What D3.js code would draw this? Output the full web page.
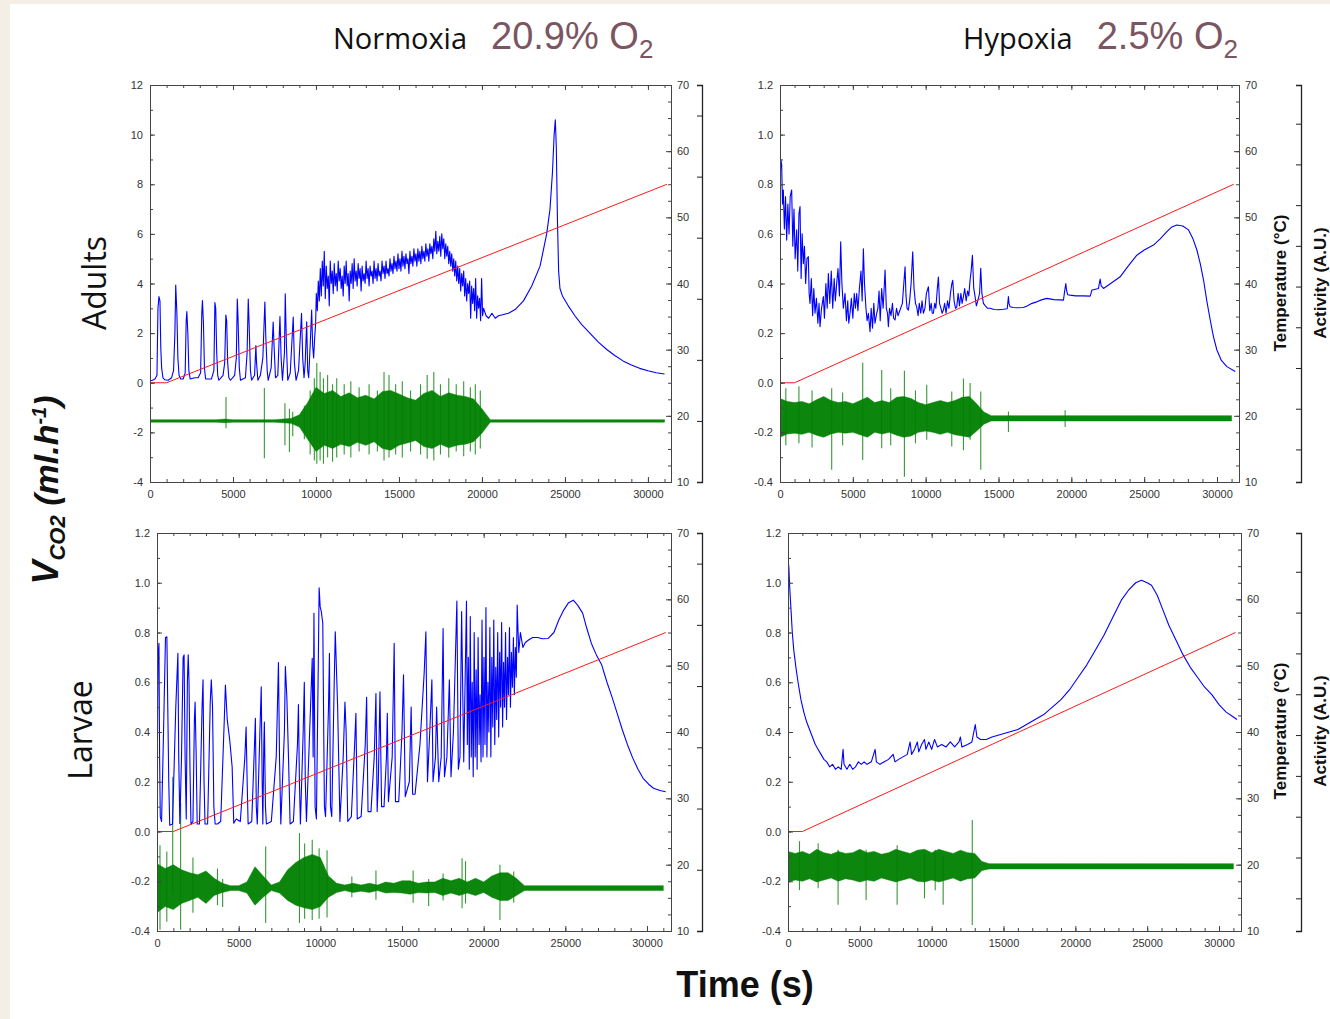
<!DOCTYPE html>
<html>
<head>
<meta charset="utf-8">
<script src="https://cdn.jsdelivr.net/npm/d3@7"></script>
<style>
  body { margin: 0; background: #fff; }
  svg text { font-family: "Liberation Sans Narrow", "Liberation Sans", Arial, sans-serif; }
</style>
</head>
<body>
<svg id="chart" width="1330" height="1019"></svg>
<script>
// ---- data ----
const xTickLabels = [0, 5000, 10000, 15000, 20000, 25000, 30000];
const yTicksAdults = [-4, -2, 0, 2, 4, 6, 8, 10, 12];
const yTicksRate = [-0.4, -0.2, 0.0, 0.2, 0.4, 0.6, 0.8, 1.0, 1.2];
const tempTicks = [10, 20, 30, 40, 50, 60, 70];

// temperature ramp (deg C)
const tempTime = [0, 1000, 31150];
const tempValue = [25, 25, 55];

// VCO2 traces, [time s, ml/h]
const vco2AdultsNormoxia = [[0,0.08],[150,0.1],[300,0.15],[420,0.3],[480,3.0],[540,3.47],[600,3.3],[650,1.4],[700,0.6],[780,0.2],[900,0.12],[1100,0.1],[1300,0.2],[1420,0.5],[1500,2.0],[1550,3.94],[1620,2.8],[1680,1.0],[1750,0.3],[1850,0.15],[2000,0.15],[2120,0.4],[2180,2.5],[2220,2.87],[2280,2.0],[2340,0.5],[2420,0.15],[2700,0.2],[2900,0.2],[3050,0.4],[3120,2.8],[3160,3.31],[3220,2.4],[3280,0.6],[3350,0.15],[3700,0.15],[3850,0.5],[3910,3.23],[3960,3.0],[4020,1.2],[4080,0.3],[4150,0.1],[4400,0.3],[4500,0.8],[4570,2.73],[4620,2.5],[4680,0.8],[4750,0.2],[4850,0.1],[5100,0.3],[5200,1.0],[5260,3.37],[5300,2.7],[5380,0.6],[5450,0.1],[5750,0.2],[5850,1.2],[5920,3.37],[5970,2.4],[6050,0.5],[6120,0.1],[6300,0.3],[6380,1.5],[6420,0.8],[6500,0.1],[6650,0.3],[6800,1.0],[6920,3.25],[6980,1.8],[7060,0.5],[7120,0.1],[7300,0.6],[7420,2.45],[7480,1.4],[7560,0.2],[7700,0.3],[7830,2.67],[7900,1.0],[7980,0.1],[8100,1.2],[8150,3.58],[8220,1.5],[8300,0.1],[8450,0.4],[8630,2.65],[8700,0.8],[8800,0.1],[8950,0.5],[9130,2.8],[9200,1.0],[9280,0.2],[9350,0.8],[9440,2.46],[9500,0.5],[9560,0.2],[9650,1.5],[9740,2.93],[9800,1.5],[9860,1.0],[9920,1.8],[9980,2.4],
  [10020,3.6],[10080,2.9],[10140,4.1],[10200,3.3],[10260,4.6],[10320,3.5],[10380,4.9],[10440,3.9],[10500,5.3],[10560,3.4],[10620,4.7],[10680,3.8],[10740,4.3],[10800,3.1],[10860,4.9],[10920,4.0],[10980,4.5],[11040,3.6],[11100,4.8],[11160,3.9],[11220,4.4],[11280,3.7],[11340,4.9],[11400,4.1],[11460,4.6],[11520,3.8],[11580,4.3],[11640,3.5],[11700,4.7],[11760,4.0],[11820,4.9],[11880,3.9],[11940,4.4],[12000,3.3],[12060,4.5],[12120,4.0],[12180,4.8],[12240,3.8],[12300,5.0],[12360,4.1],[12420,4.5],[12480,3.9],[12540,4.8],[12600,4.2],[12660,4.6],[12720,3.7],[12780,4.7],[12840,4.1],[12900,4.4],[12960,4.0],[13020,4.9],[13080,4.2],[13140,4.6],[13200,3.9],[13260,4.7],[13320,4.3],[13380,4.5],[13440,4.0],[13500,4.9],[13560,4.2],[13620,4.6],[13680,4.1],[13740,4.8],[13800,4.3],[13860,4.5],[13920,4.1],[13980,4.9],[14040,4.4],[14100,4.7],[14160,4.2],[14220,4.9],[14280,4.4],[14340,4.6],[14400,4.3],[14460,5.0],[14520,4.5],[14580,4.8],[14640,4.4],[14700,5.1],[14760,4.6],[14820,4.9],[14880,4.5],[14940,5.2],[15000,4.6],[15060,5.0],[15120,4.5],[15180,5.3],[15240,4.7],[15300,5.1],[15360,4.6],[15420,5.2],[15480,4.8],[15540,5.0],[15600,4.4],[15660,5.3],[15720,4.8],[15780,5.1],[15840,4.7],[15900,5.4],[15960,4.9],[16020,5.2],[16080,4.7],[16140,5.4],[16200,4.9],[16260,5.3],[16320,4.8],[16380,5.5],[16440,5.0],[16500,5.3],[16560,4.9],[16620,5.6],[16680,5.1],[16740,5.4],[16800,4.9],[16860,5.6],[16920,5.2],[16980,5.5],[17040,5.0],[17100,5.8],[17160,5.3],[17220,6.1],[17280,5.2],[17340,5.7],[17400,5.3],[17460,5.9],[17520,5.1],[17580,6.0],[17640,5.4],[17700,5.8],[17760,5.0],[17820,5.6],[17880,5.1],[17940,5.5],[18000,4.8],[18060,5.3],[18120,4.7],[18180,5.2],[18240,4.5],[18300,5.0],[18360,4.3],[18420,4.9],[18480,4.1],[18540,4.7],[18600,4.0],[18660,4.6],[18720,3.7],[18780,4.4],[18840,3.9],[18900,4.5],[18960,3.5],[19020,4.2],[19080,3.3],[19140,4.0],[19200,3.6],[19260,4.1],[19320,2.6],[19380,3.9],[19440,3.2],[19500,3.8],[19560,2.9],[19620,4.2],[19680,2.6],[19740,3.5],[19800,3.0],[19860,3.4],[19920,2.5],[19980,4.2],[20040,2.7],[20100,3.0],
  [20250,2.7],[20400,2.6],[20600,2.8],[20800,2.6],[21000,2.7],[21300,2.75],[21600,2.8],[22000,2.95],[22500,3.3],[23000,3.9],[23500,4.7],[23900,6.0],[24100,7.0],[24250,8.5],[24350,10.0],[24420,10.6],[24480,9.5],[24550,6.5],[24620,4.5],[24700,3.8],[24850,3.5],[25200,3.1],[25600,2.7],[26000,2.35],[26500,2.0],[27000,1.65],[27500,1.35],[28000,1.1],[28500,0.88],[29000,0.72],[29500,0.58],[30000,0.48],[30500,0.4],[31000,0.35]];

const vco2AdultsHypoxia = [[0,0.8],[60,0.9],[115,0.878],[170,0.72],[229,0.777],[300,0.62],[380,0.75],[458,0.575],[540,0.72],[620,0.6],[700,0.75],[801,0.777],[880,0.55],[960,0.7],[1040,0.5],[1145,0.616],[1220,0.45],[1300,0.68],[1374,0.71],[1450,0.42],[1520,0.6],[1603,0.48],[1680,0.55],[1760,0.4],[1850,0.5],[1946,0.508],[2000,0.36],[2060,0.32],[2150,0.42],[2240,0.27],[2320,0.38],[2404,0.28],[2500,0.34],[2600,0.24],[2680,0.32],[2747,0.226],[2850,0.3],[2976,0.347],[3050,0.26],[3150,0.4],[3240,0.3],[3320,0.44],[3420,0.32],[3520,0.45],[3620,0.3],[3720,0.42],[3800,0.33],[3892,0.4],[3980,0.46],[4080,0.35],[4167,0.568],[4250,0.4],[4350,0.3],[4465,0.36],[4560,0.25],[4650,0.33],[4720,0.24],[4808,0.28],[4900,0.34],[5000,0.26],[5100,0.36],[5180,0.3],[5266,0.36],[5350,0.29],[5450,0.38],[5560,0.45],[5640,0.33],[5724,0.54],[5800,0.4],[5900,0.3],[5980,0.25],[6067,0.28],[6181,0.206],[6260,0.3],[6350,0.22],[6440,0.32],[6520,0.24],[6639,0.28],[6720,0.3],[6800,0.37],[6880,0.25],[6980,0.38],[7080,0.3],[7150,0.38],[7212,0.454],[7300,0.3],[7380,0.28],[7440,0.226],[7520,0.3],[7620,0.27],[7720,0.32],[7800,0.26],[7898,0.253],[8000,0.3],[8100,0.27],[8242,0.293],[8400,0.32],[8500,0.4],[8585,0.467],[8650,0.35],[8720,0.3],[8814,0.293],[8900,0.33],[9000,0.4],[9112,0.528],[9200,0.38],[9300,0.32],[9386,0.306],[9480,0.27],[9560,0.32],[9660,0.28],[9750,0.33],[9844,0.28],[9950,0.3],[10050,0.36],[10188,0.387],[10280,0.29],[10380,0.32],[10450,0.28],[10531,0.28],[10620,0.32],[10700,0.3],[10800,0.38],[10874,0.426],[10950,0.32],[11050,0.3],[11130,0.28],[11218,0.293],[11300,0.32],[11400,0.28],[11500,0.33],[11600,0.3],[11700,0.36],[11800,0.4],[11859,0.413],[11950,0.33],[12050,0.3],[12133,0.306],[12230,0.36],[12320,0.31],[12420,0.36],[12500,0.32],[12591,0.347],[12680,0.38],[12780,0.33],[12880,0.37],[12960,0.35],[13049,0.413],[13120,0.45],[13209,0.514],[13300,0.38],[13392,0.347],[13480,0.31],[13580,0.33],[13700,0.36],[13781,0.461],[13860,0.36],[13964,0.32],[14100,0.31],[14250,0.3],[14422,0.3],[14700,0.295],[15000,0.294],[15338,0.296],[15600,0.298],[15681,0.347],[15720,0.32],[15796,0.306],[16000,0.303],[16300,0.302],[16712,0.303],[17000,0.31],[17300,0.32],[17628,0.326],[18000,0.335],[18315,0.34],[18800,0.335],[19200,0.334],[19460,0.333],[19520,0.36],[19620,0.40],[19680,0.37],[19750,0.355],[19918,0.353],[20300,0.35],[20800,0.35],[21292,0.349],[21350,0.36],[21406,0.373],[21500,0.375],[21864,0.38],[21920,0.40],[21979,0.418],[22050,0.39],[22208,0.38],[22700,0.4],[23352,0.427],[23900,0.47],[24497,0.514],[25000,0.535],[25641,0.555],[26100,0.58],[26557,0.609],[26900,0.628],[27244,0.636],[27650,0.632],[28045,0.616],[28350,0.58],[28618,0.535],[28850,0.48],[29076,0.414],[29300,0.33],[29534,0.253],[29760,0.185],[29992,0.132],[30300,0.09],[30679,0.065],[31251,0.045]];

const vco2LarvaeNormoxia = [[0,0.05],[60,0.7],[119,0.757],[160,0.3],[200,0.06],[280,0.04],[400,0.4],[520,0.78],[604,0.783],[660,0.5],[720,0.2],[780,0.025],[950,0.03],[1150,0.5],[1280,0.716],[1330,0.3],[1400,0.032],[1500,0.3],[1600,0.7],[1658,0.71],[1720,0.3],[1790,0.05],[1860,0.6],[1911,0.71],[1960,0.6],[2020,0.25],[2080,0.03],[2200,0.04],[2290,0.45],[2333,0.52],[2400,0.3],[2460,0.03],[2600,0.03],[2760,0.5],[2818,0.61],[2880,0.2],[2940,0.03],[3100,0.03],[3260,0.52],[3325,0.61],[3400,0.5],[3480,0.1],[3560,0.03],[3700,0.03],[3900,0.04],[4120,0.45],[4189,0.589],[4300,0.45],[4450,0.37],[4600,0.26],[4700,0.033],[4850,0.05],[5100,0.04],[5380,0.3],[5455,0.42],[5520,0.2],[5580,0.03],[5800,0.04],[5970,0.35],[6024,0.455],[6080,0.1],[6140,0.03],[6300,0.4],[6382,0.582],[6440,0.2],[6480,0.03],[6540,0.35],[6574,0.44],[6640,0.1],[6700,0.03],[7000,0.04],[7300,0.3],[7436,0.679],[7500,0.3],[7580,0.03],[7800,0.4],[7860,0.663],[7950,0.54],[8050,0.3],[8150,0.03],[8350,0.04],[8600,0.35],[8660,0.51],[8720,0.2],[8780,0.03],[8950,0.4],[9019,0.6],[9080,0.2],[9150,0.04],[9400,0.5],[9504,0.696],[9560,0.3],[9610,0.877],[9680,0.1],[9760,0.05],[9880,0.7],[9927,0.98],[9990,0.904],[10060,0.884],[10150,0.837],[10250,0.1],[10320,0.06],[10500,0.5],[10558,0.716],[10620,0.1],[10700,0.06],[10850,0.6],[10915,0.803],[11060,0.5],[11200,0.04],[11400,0.3],[11507,0.52],[11580,0.4],[11680,0.04],[11900,0.06],[12100,0.35],[12178,0.475],[12260,0.05],[12500,0.06],[12750,0.35],[12834,0.54],[12920,0.08],[13100,0.08],[13300,0.3],[13405,0.555],[13480,0.08],[13550,0.2],[13650,0.562],[13750,0.1],[13900,0.1],[14050,0.3],[14100,0.475],[14170,0.12],[14400,0.3],[14522,0.757],[14600,0.12],[14800,0.12],[15000,0.4],[15093,0.63],[15200,0.14],[15450,0.2],[15560,0.5],[15650,0.15],[15800,0.15],[16100,0.35],[16357,0.636],[16463,0.803],[16560,0.2],[16700,0.4],[16830,0.61],[16900,0.2],[17050,0.3],[17120,0.5],[17250,0.2],[17400,0.3],[17516,0.816],[17600,0.22],[17750,0.3],[17900,0.61],[18000,0.22],[18150,0.4],[18360,0.926],[18450,0.25],[18550,0.3],[18650,0.884],[18780,0.28],[18948,0.926],
  [19000,0.35],[19060,0.7],[19120,0.25],[19180,0.864],[19240,0.3],[19300,0.6],[19360,0.22],[19420,0.8],[19480,0.3],[19540,0.65],[19600,0.25],[19660,0.78],[19720,0.35],[19780,0.55],[19840,0.28],[19900,0.85],[19960,0.3],[20020,0.7],[20080,0.35],[20140,0.9],[20200,0.3],[20260,0.6],[20320,0.4],[20380,0.82],[20440,0.3],[20500,0.7],[20560,0.42],[20620,0.85],[20680,0.35],[20740,0.66],[20800,0.45],[20860,0.8],[20920,0.38],[20980,0.72],[21040,0.5],[21100,0.84],[21160,0.42],[21220,0.68],[21280,0.5],[21340,0.8],[21400,0.45],[21460,0.7],[21520,0.55],[21580,0.82],[21640,0.5],[21700,0.72],[21760,0.58],[21820,0.78],[21880,0.55],[21940,0.74],[22000,0.62],[22052,0.91],[22150,0.72],[22250,0.8],[22400,0.74],[22550,0.76],[22750,0.77],[23000,0.78],[23300,0.78],[23600,0.775],[23950,0.776],[24300,0.8],[24600,0.85],[24900,0.89],[25200,0.92],[25488,0.93],[25750,0.91],[26061,0.878],[26300,0.82],[26590,0.757],[26900,0.71],[27225,0.67],[27550,0.6],[27860,0.54],[28200,0.47],[28494,0.408],[28800,0.35],[29129,0.295],[29450,0.25],[29764,0.214],[30100,0.19],[30399,0.174],[30800,0.165],[31140,0.16]];

const vco2LarvaeHypoxia = [[0,1.1],[60,1.06],[120,0.98],[200,0.9],[300,0.8],[400,0.73],[550,0.66],[700,0.6],[900,0.53],[1100,0.48],[1300,0.44],[1500,0.41],[1700,0.38],[1900,0.35],[2100,0.33],[2300,0.31],[2500,0.29],[2700,0.28],[2900,0.26],[3100,0.27],[3300,0.25],[3500,0.26],[3700,0.25],[3834,0.33],[3900,0.27],[4100,0.25],[4300,0.27],[4500,0.25],[4700,0.26],[4900,0.28],[5100,0.27],[5300,0.28],[5500,0.27],[5800,0.28],[6064,0.33],[6150,0.28],[6400,0.27],[6700,0.28],[7000,0.29],[7319,0.31],[7450,0.28],[7700,0.29],[8000,0.3],[8300,0.31],[8500,0.36],[8600,0.31],[8800,0.33],[9000,0.36],[9100,0.32],[9300,0.35],[9500,0.37],[9600,0.33],[9800,0.36],[10000,0.33],[10200,0.37],[10400,0.34],[10700,0.35],[11000,0.34],[11300,0.36],[11600,0.34],[11900,0.36],[12000,0.38],[12100,0.34],[12500,0.35],[12800,0.36],[13033,0.43],[13150,0.38],[13400,0.37],[13800,0.37],[14200,0.38],[14800,0.39],[15400,0.4],[16000,0.41],[16600,0.43],[17200,0.45],[17800,0.47],[18400,0.5],[19000,0.53],[19600,0.57],[20200,0.62],[20800,0.67],[21400,0.73],[22000,0.79],[22600,0.86],[23200,0.93],[23700,0.97],[24200,1.0],[24600,1.01],[25000,1.0],[25300,0.99],[25700,0.95],[26100,0.89],[26500,0.83],[27000,0.77],[27500,0.71],[28000,0.66],[28500,0.62],[29000,0.58],[29500,0.55],[30000,0.51],[30500,0.48],[31000,0.46],[31250,0.45]];

// activity envelopes (A.U.), one low/high pair per 500 s bin
const actStep = 500;
const actAdultsNormoxiaLo = [0.98,0.98,0.98,0.98,0.98,0.98,0.98,0.98,0.98,0.97, 0.98,0.98,0.98,0.98,0.98,0.98,0.97,0.96,0.9,0.7, 0.5,0.6,0.55,0.62,0.58,0.65,0.6,0.66,0.55,0.52, 0.6,0.64,0.68,0.58,0.55,0.62,0.56,0.6,0.62,0.66, 0.8,0.98,0.98,0.98,0.98,0.98,0.98,0.98,0.98,0.98, 0.98,0.98,0.98,0.98,0.98,0.98,0.98,0.98,0.98,0.98, 0.98,0.98,0.98];
const actAdultsNormoxiaHi = [1.02,1.02,1.02,1.02,1.02,1.02,1.02,1.02,1.02,1.03, 1.02,1.02,1.02,1.02,1.02,1.02,1.03,1.04,1.1,1.3, 1.55,1.45,1.5,1.4,1.46,1.38,1.42,1.36,1.48,1.5, 1.44,1.38,1.34,1.45,1.5,1.4,1.46,1.42,1.4,1.36, 1.2,1.02,1.02,1.02,1.02,1.02,1.02,1.02,1.02,1.02, 1.02,1.02,1.02,1.02,1.02,1.02,1.02,1.02,1.02,1.02, 1.02,1.02,1.02];
const actAdultsHypoxiaLo = [0.3,0.38,0.4,0.37,0.42,0.35,0.3,0.38,0.42,0.4, 0.42,0.36,0.3,0.42,0.38,0.42,0.35,0.3,0.33,0.42, 0.45,0.42,0.37,0.42,0.36,0.33,0.3,0.45,0.62,0.7, 0.7,0.7,0.7,0.7,0.7,0.7,0.7,0.7,0.7,0.7, 0.7,0.7,0.7,0.7,0.7,0.7,0.7,0.7,0.7,0.7, 0.7,0.7,0.7,0.7,0.7,0.7,0.7,0.7,0.7,0.7, 0.7,0.7,0.7];
const actAdultsHypoxiaHi = [1.25,1.18,1.15,1.18,1.12,1.22,1.3,1.2,1.15,1.18, 1.12,1.2,1.28,1.15,1.2,1.15,1.28,1.3,1.25,1.15, 1.1,1.15,1.2,1.15,1.2,1.28,1.3,1.12,0.92,0.83, 0.83,0.83,0.83,0.83,0.83,0.83,0.83,0.83,0.83,0.83, 0.83,0.83,0.83,0.83,0.83,0.83,0.83,0.83,0.83,0.83, 0.83,0.83,0.83,0.83,0.83,0.83,0.83,0.83,0.83,0.83, 0.83,0.83,0.83];
const actLarvaeNormoxiaLo = [0.3,0.4,0.35,0.45,0.5,0.55,0.45,0.58,0.63,0.66, 0.66,0.62,0.42,0.55,0.66,0.62,0.5,0.42,0.38,0.35, 0.4,0.55,0.63,0.66,0.63,0.65,0.63,0.66,0.62,0.63, 0.62,0.6,0.63,0.62,0.63,0.58,0.62,0.58,0.62,0.58, 0.63,0.55,0.5,0.5,0.58,0.66,0.66,0.66,0.66,0.66, 0.66,0.66,0.66,0.66,0.66,0.66,0.66,0.66,0.66,0.66, 0.66,0.66,0.66];
const actLarvaeNormoxiaHi = [1.1,1.02,1.08,1.0,0.95,0.92,0.98,0.86,0.78,0.74, 0.74,0.8,1.05,0.9,0.75,0.8,1.0,1.12,1.2,1.25, 1.2,0.9,0.78,0.75,0.78,0.75,0.78,0.75,0.8,0.78, 0.82,0.82,0.78,0.8,0.8,0.86,0.82,0.86,0.8,0.86, 0.8,0.9,0.95,0.95,0.86,0.74,0.74,0.74,0.74,0.74, 0.74,0.74,0.74,0.74,0.74,0.74,0.74,0.74,0.74,0.74, 0.74,0.74,0.74];
const actLarvaeHypoxiaLo = [0.4,0.45,0.42,0.48,0.4,0.45,0.5,0.42,0.48,0.45, 0.4,0.45,0.42,0.5,0.45,0.4,0.45,0.5,0.42,0.4, 0.45,0.4,0.45,0.5,0.42,0.48,0.5,0.68,0.72,0.72, 0.72,0.72,0.72,0.72,0.72,0.72,0.72,0.72,0.72,0.72, 0.72,0.72,0.72,0.72,0.72,0.72,0.72,0.72,0.72,0.72, 0.72,0.72,0.72,0.72,0.72,0.72,0.72,0.72,0.72,0.72, 0.72,0.72,0.72];
const actLarvaeHypoxiaHi = [1.15,1.1,1.15,1.08,1.2,1.12,1.08,1.15,1.1,1.12, 1.2,1.12,1.15,1.08,1.12,1.2,1.15,1.1,1.18,1.2, 1.12,1.2,1.15,1.1,1.18,1.12,1.1,0.9,0.85,0.85, 0.85,0.85,0.85,0.85,0.85,0.85,0.85,0.85,0.85,0.85, 0.85,0.85,0.85,0.85,0.85,0.85,0.85,0.85,0.85,0.85, 0.85,0.85,0.85,0.85,0.85,0.85,0.85,0.85,0.85,0.85, 0.85,0.85,0.85];

// isolated activity spikes, [time s, low, high]
const spikesAdultsNormoxia = [[4580,0.88,1.39],[6890,0.39,1.54],[8130,0.6,1.29],[8400,0.49,1.2],[8600,0.75,1.15],[9300,0.7,1.25],[9650,0.45,1.5],[9900,0.35,1.7],[10050,0.3,1.95],[10250,0.35,1.8],[10450,0.3,1.7],[10700,0.4,1.75],[11000,0.33,1.6],[11250,0.4,1.7],[11700,0.45,1.6],[12100,0.4,1.65],[12600,0.5,1.55],[13200,0.45,1.6],[13700,0.5,1.5],[14100,0.35,1.8],[14400,0.4,1.75],[14800,0.45,1.6],[15200,0.4,1.65],[15700,0.5,1.5],[16300,0.45,1.6],[16700,0.38,1.75],[17100,0.35,1.8],[17500,0.45,1.6],[18000,0.4,1.7],[18450,0.5,1.6],[18900,0.42,1.65],[19300,0.5,1.55],[19600,0.45,1.6],[19900,0.55,1.5]];
const spikesAdultsHypoxia = [[400,0.1,1.5],[1300,0.15,1.55],[2200,0.05,1.45],[3549,-0.5,1.5],[4300,0.1,1.4],[5678,-0.26,2.13],[6983,0.03,1.95],[7600,0.1,1.5],[8540,-0.67,1.93],[9300,0.15,1.45],[10074,0.24,1.59],[11791,0.07,1.42],[12592,-0.02,1.74],[13050,0.24,1.63],[13782,-0.5,1.42],[15682,0.43,0.93],[19574,0.55,0.96]];
const spikesLarvaeNormoxia = [[183,0.02,1.4],[600,0.15,1.3],[962,0.6,2.52],[1447,0.02,2.09],[2200,0.3,1.2],[3704,0.42,1.02],[4020,0.39,0.85],[6654,0.13,1.38],[8723,0.13,1.6],[9039,0.2,1.43],[9504,0.18,1.49],[9926,0.2,1.35],[10412,0.22,1.32],[11929,0.55,0.89],[13405,0.51,0.99],[15683,0.46,0.99],[16632,0.41,0.85],[17518,0.5,0.94],[18678,0.37,1.19],[18889,0.45,1.14],[20998,0.18,1.08],[21842,0.46,0.97]];
const spikesLarvaeHypoxia = [[800,0.2,1.4],[2100,0.25,1.35],[3485,-0.16,1.19],[5437,-0.04,1.19],[7597,-0.16,1.3],[9500,0.0,1.1],[10246,0.2,1.19],[10800,-0.16,1.07],[12825,-0.65,1.92]];

// ---- drawing ----
const W = 1330, H = 1019;
const BLUE = "#0000ff", RED = "#ff1a1a", GREEN = "#008000", AXIS = "#444";
const svg = d3.select("#chart");

svg.append("rect").attr("width", W).attr("height", H).attr("fill", "#f3efe6");
svg.append("rect").attr("x", 10).attr("y", 4).attr("width", W - 10).attr("height", H - 4).attr("fill", "#fff");

const panels = [
  { id: "an", left: 150, right: 671, top: 85, bottom: 482, xMax: 31390, actX: 702,
    yDomain: [-4, 12], yTicks: yTicksAdults, yMinor: 1, fmt: d => String(d),
    actDomain: [0, 6.5], actTicks: [0, 1, 2, 3, 4, 5, 6],
    vco2: vco2AdultsNormoxia, lo: actAdultsNormoxiaLo, hi: actAdultsNormoxiaHi, spikes: spikesAdultsNormoxia },
  { id: "ah", left: 780, right: 1239, top: 85, bottom: 482, xMax: 31510, actX: 1301,
    yDomain: [-0.4, 1.2], yTicks: yTicksRate, yMinor: 0.1, fmt: d => d.toFixed(1),
    actDomain: [-0.8, 8.95], actTicks: [0, 1, 2, 3, 4, 5, 6, 7, 8],
    vco2: vco2AdultsHypoxia, lo: actAdultsHypoxiaLo, hi: actAdultsHypoxiaHi, spikes: spikesAdultsHypoxia },
  { id: "ln", left: 157, right: 671, top: 533, bottom: 931, xMax: 31470, actX: 702,
    yDomain: [-0.4, 1.2], yTicks: yTicksRate, yMinor: 0.1, fmt: d => d.toFixed(1),
    actDomain: [0, 6.5], actTicks: [0, 1, 2, 3, 4, 5, 6],
    vco2: vco2LarvaeNormoxia, lo: actLarvaeNormoxiaLo, hi: actLarvaeNormoxiaHi, spikes: spikesLarvaeNormoxia },
  { id: "lh", left: 788, right: 1241, top: 533, bottom: 931, xMax: 31530, actX: 1301,
    yDomain: [-0.4, 1.2], yTicks: yTicksRate, yMinor: 0.1, fmt: d => d.toFixed(1),
    actDomain: [-0.8, 8.95], actTicks: [0, 1, 2, 3, 4, 5, 6, 7, 8],
    vco2: vco2LarvaeHypoxia, lo: actLarvaeHypoxiaLo, hi: actLarvaeHypoxiaHi, spikes: spikesLarvaeHypoxia }
];

function styleAxis(sel) {
  sel.selectAll("path, line").attr("stroke", AXIS).attr("stroke-width", 1);
  sel.selectAll("text").attr("fill", "#333").attr("font-size", 11);
}

function drawPanel(p) {
  const x = d3.scaleLinear().domain([0, p.xMax]).range([p.left, p.right]);
  const y = d3.scaleLinear().domain(p.yDomain).range([p.bottom, p.top]);
  const yT = d3.scaleLinear().domain([10, 70]).range([p.bottom, p.top]);
  const yA = d3.scaleLinear().domain(p.actDomain).range([p.bottom, p.top]);

  svg.append("clipPath").attr("id", "clip-" + p.id)
    .append("rect").attr("x", p.left).attr("y", p.top)
    .attr("width", p.right - p.left).attr("height", p.bottom - p.top);

  const plot = svg.append("g").attr("clip-path", `url(#clip-${p.id})`);

  // activity: dense envelope band + spikes
  const bins = p.lo.map((lo, i) => [i * actStep, lo, p.hi[i]]);
  plot.append("path").datum(bins)
    .attr("d", d3.area().x(d => x(d[0])).y0(d => yA(d[1])).y1(d => yA(d[2])))
    .attr("fill", GREEN).attr("stroke", GREEN).attr("stroke-width", 0.8)
    .attr("stroke-opacity", 0.6).attr("fill-opacity", 0.95);
  plot.selectAll("line.spike").data(p.spikes).join("line").attr("class", "spike")
    .attr("x1", d => x(d[0])).attr("x2", d => x(d[0]))
    .attr("y1", d => yA(d[1])).attr("y2", d => yA(d[2]))
    .attr("stroke", GREEN).attr("stroke-width", 1.1).attr("stroke-opacity", 0.8);

  // VCO2
  plot.append("path").datum(p.vco2)
    .attr("d", d3.line().x(d => x(d[0])).y(d => y(d[1])))
    .attr("fill", "none").attr("stroke", BLUE).attr("stroke-width", 1.1)
    .attr("stroke-linejoin", "round");

  // temperature
  plot.append("path").datum(tempTime.map((t, i) => [t, tempValue[i]]))
    .attr("d", d3.line().x(d => x(d[0])).y(d => yT(d[1])))
    .attr("fill", "none").attr("stroke", RED).attr("stroke-width", 1);

  // frame axes, ticks pointing inward
  const minorX = d3.range(0, p.xMax, 1000);
  const gb = svg.append("g").attr("transform", `translate(0,${p.bottom})`)
    .call(d3.axisBottom(x).tickValues(xTickLabels).tickSize(-5).tickSizeOuter(0).tickPadding(8).tickFormat(d => String(d)));
  styleAxis(gb);
  const gbm = svg.append("g").attr("transform", `translate(0,${p.bottom})`)
    .call(d3.axisBottom(x).tickValues(minorX).tickSize(-3).tickSizeOuter(0).tickFormat(""));
  styleAxis(gbm);
  const gt = svg.append("g").attr("transform", `translate(0,${p.top})`)
    .call(d3.axisTop(x).tickValues(xTickLabels).tickSize(-5).tickSizeOuter(0).tickFormat(""));
  styleAxis(gt);
  const gtm = svg.append("g").attr("transform", `translate(0,${p.top})`)
    .call(d3.axisTop(x).tickValues(minorX).tickSize(-3).tickSizeOuter(0).tickFormat(""));
  styleAxis(gtm);

  const minorY = d3.range(p.yDomain[0], p.yDomain[1] + 1e-9, p.yMinor);
  const gl = svg.append("g").attr("transform", `translate(${p.left},0)`)
    .call(d3.axisLeft(y).tickValues(p.yTicks).tickSize(-5).tickSizeOuter(0).tickPadding(7).tickFormat(p.fmt));
  styleAxis(gl);
  const glm = svg.append("g").attr("transform", `translate(${p.left},0)`)
    .call(d3.axisLeft(y).tickValues(minorY).tickSize(-3).tickSizeOuter(0).tickFormat(""));
  styleAxis(glm);

  const gr = svg.append("g").attr("transform", `translate(${p.right},0)`)
    .call(d3.axisRight(yT).tickValues(tempTicks).tickSize(-5).tickSizeOuter(0).tickPadding(6));
  styleAxis(gr);
  const grm = svg.append("g").attr("transform", `translate(${p.right},0)`)
    .call(d3.axisRight(yT).tickValues(d3.range(10, 70.1, 2.5)).tickSize(-3).tickSizeOuter(0).tickFormat(""));
  styleAxis(grm);

  // separate activity axis, unlabelled
  const ga = svg.append("g").attr("transform", `translate(${p.actX},0)`)
    .call(d3.axisLeft(yA).tickValues(p.actTicks).tickSize(5).tickSizeOuter(5).tickFormat(""));
  ga.select("path").attr("stroke", "#222").attr("stroke-width", 1.3);
  ga.selectAll("line").attr("stroke", "#222");
}

panels.forEach(drawPanel);

// ---- titles and labels ----
const title = (xx, word, pct) => {
  const t = svg.append("text").attr("x", xx).attr("y", 49)
    .style("font-family", "'Open Sans', 'Noto Sans', sans-serif");
  t.append("tspan").attr("font-size", 29).attr("fill", "#111").text(word);
  t.append("tspan").attr("dx", 24).attr("font-size", 38).attr("fill", "#7b5562")
    .style("font-family", "'Liberation Sans Narrow', 'Liberation Sans', sans-serif").text(pct + " O");
  t.append("tspan").attr("font-size", 26).attr("fill", "#7b5562").attr("dy", 9)
    .style("font-family", "'Liberation Sans Narrow', 'Liberation Sans', sans-serif").text("2");
};
title(333, "Normoxia", "20.9%");
title(963, "Hypoxia", "2.5%");

const rowLabel = (cx, cy, txt) => svg.append("text")
  .attr("transform", `translate(${cx},${cy}) rotate(-90)`)
  .attr("text-anchor", "middle").attr("font-size", 32).attr("fill", "#111")
  .style("font-family", "'Open Sans', 'Noto Sans', sans-serif").text(txt);
rowLabel(106, 283, "Adults");
rowLabel(92, 730, "Larvae");

const vlab = svg.append("text")
  .attr("transform", "translate(58,490) rotate(-90)")
  .attr("text-anchor", "middle").attr("font-weight", "bold").attr("font-style", "italic")
  .attr("fill", "#111").style("font-family", "'Liberation Sans', Arial, sans-serif");
vlab.append("tspan").attr("font-size", 36).text("V");
vlab.append("tspan").attr("font-size", 22).attr("dy", 7).text("CO2");
vlab.append("tspan").attr("font-size", 34).attr("dy", -7).text(" (ml.h");
vlab.append("tspan").attr("font-size", 20).attr("dy", -12).text("-1");
vlab.append("tspan").attr("font-size", 34).attr("dy", 12).text(")");

svg.append("text").attr("x", 745).attr("y", 997).attr("text-anchor", "middle")
  .attr("font-size", 36).attr("font-weight", "bold").attr("fill", "#111")
  .text("Time (s)");

const sideLabel = (cx, cy, txt) => svg.append("text")
  .attr("transform", `translate(${cx},${cy}) rotate(-90)`)
  .attr("text-anchor", "middle").attr("font-size", 17).attr("font-weight", "bold")
  .attr("fill", "#111").style("font-family", "'Liberation Sans', Arial, sans-serif").text(txt);
sideLabel(1286, 283, "Temperature (°C)");
sideLabel(1326, 283, "Activity (A.U.)");
sideLabel(1286, 731, "Temperature (°C)");
sideLabel(1326, 731, "Activity (A.U.)");
</script>
</body>
</html>
